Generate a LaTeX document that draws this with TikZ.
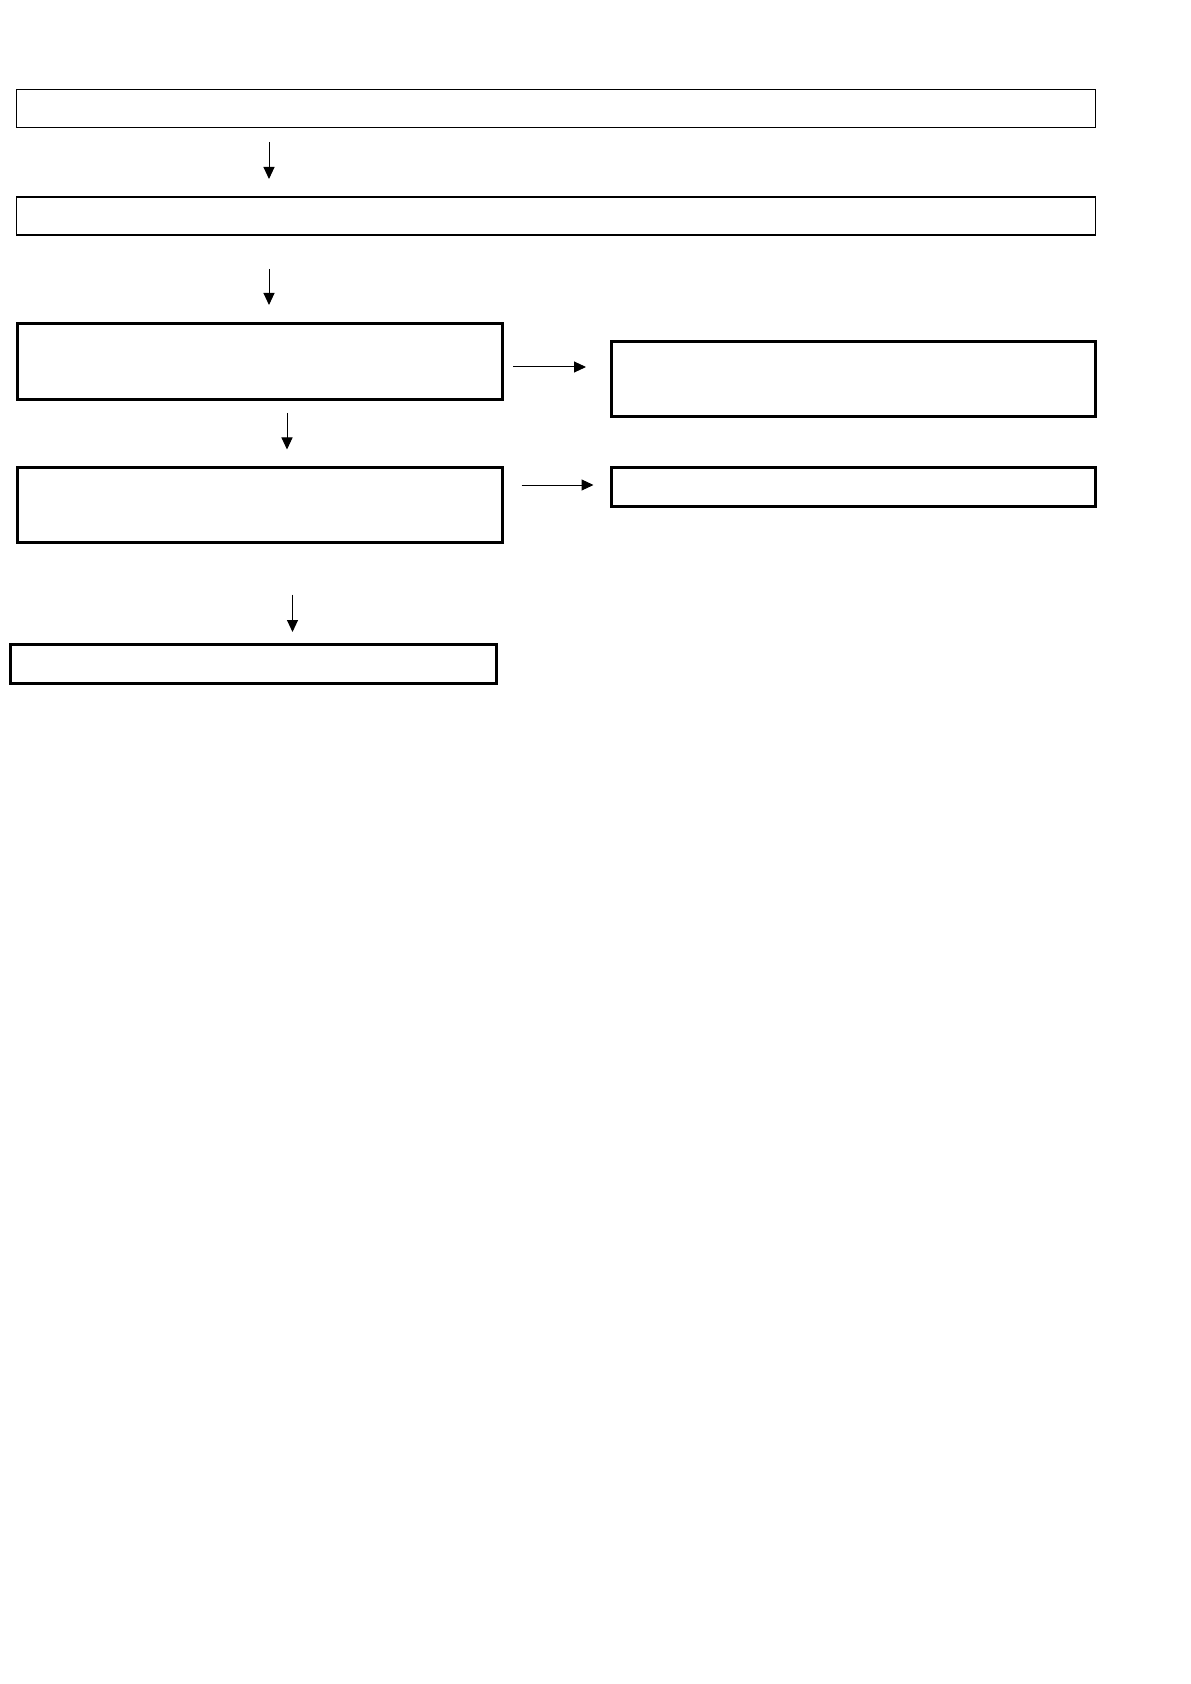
\documentclass[tikz,border=0pt]{standalone}
\usetikzlibrary{arrows.meta}
\begin{document}
\begin{tikzpicture}[x=0.5pt,y=-0.5pt,
  thinbox/.style={draw=black,line width=0.7pt,inner sep=0pt,anchor=north west},
  thickbox/.style={draw=black,line width=1.5pt,inner sep=0pt,anchor=north west},
  flow/.style={line width=0.5pt,-{Triangle[length=6pt,width=5.5pt]}}]
\useasboundingbox (0,0) rectangle (1190,1684);
\fill[white] (0,0) rectangle (1190,1684);
% boxes
\node[thinbox,minimum width=539.4pt,minimum height=19.2pt] (b1) at (15.8,88.6) {};
\node[thinbox,minimum width=539.4pt,minimum height=19pt] (b2) at (15.8,196.3) {};
\node[thickbox,minimum width=242.7pt,minimum height=37.6pt] (b3) at (15.8,322.4) {};
\node[thickbox,minimum width=242.3pt,minimum height=37.8pt] (b4) at (609.7,339.8) {};
\node[thickbox,minimum width=242.7pt,minimum height=37.6pt] (b5) at (15.8,466) {};
\node[thickbox,minimum width=242.3pt,minimum height=19.8pt] (b6) at (609.7,465.8) {};
\node[thickbox,minimum width=242.8pt,minimum height=19.4pt] (b7) at (9.3,643.4) {};
% connector end points
\coordinate (a1s) at (269,142); \coordinate (a1e) at (269,179);
\coordinate (a2s) at (269,269); \coordinate (a2e) at (269,305);
\coordinate (a3s) at (287,413); \coordinate (a3e) at (287,449.5);
\coordinate (a4s) at (292.5,594.5); \coordinate (a4e) at (292.5,632);
\coordinate (r1s) at (513,367); \coordinate (r1e) at (586,367);
\coordinate (r2s) at (521.5,485); \coordinate (r2e) at (593.5,485);
% connectors
\draw[flow] (a1s) -- (a1e);
\draw[flow] (a2s) -- (a2e);
\draw[flow] (a3s) -- (a3e);
\draw[flow] (a4s) -- (a4e);
\draw[flow] (r1s) -- (r1e);
\draw[flow] (r2s) -- (r2e);
\end{tikzpicture}
\end{document}
